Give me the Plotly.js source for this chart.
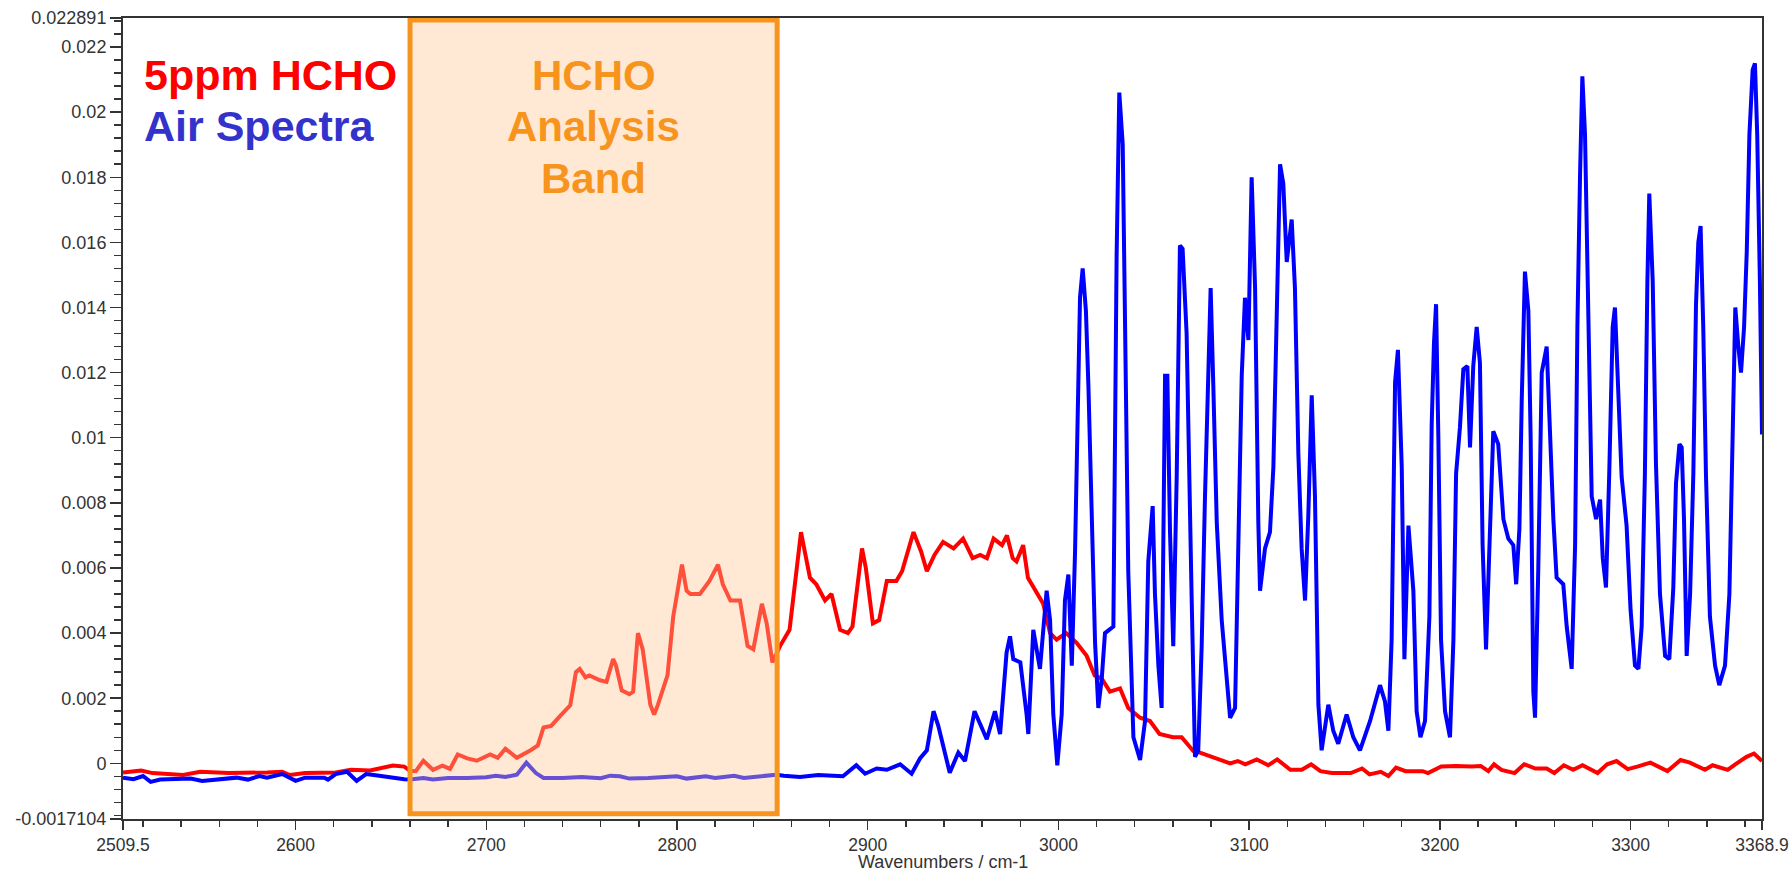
<!DOCTYPE html>
<html>
<head>
<meta charset="utf-8">
<script src="https://cdn.plot.ly/plotly-3.0.1.min.js"></script>
<style>
  html, body { margin: 0; padding: 0; background: #ffffff; }
  #chart { width: 1791px; height: 871px; }
</style>
</head>
<body>
<div id="chart"></div>
<script>
// ---- Data ----
const hchoWavenumber = [2509.5,2519,2525,2541,2550,2565,2585,2593,2597,2605,2621,2629,2639,2645,2651,2657,2660,2663,2667,2672,2677,2681,2685,2690,2695,2702,2706,2710,2716,2723,2727,2730,2734,2739,2744,2747,2749,2752,2754,2759.6,2763,2766.5,2768,2771,2775,2777,2779.5,2782,2786,2788,2790,2795,2798,2802.6,2805,2807,2812,2817,2821.5,2824,2828,2833,2837,2840,2844.5,2847,2850,2854,2859,2862,2865,2867,2869.7,2873,2877.6,2881,2883,2885.5,2889.6,2892,2897,2899,2902.7,2906,2910,2915,2918,2924,2928,2931,2935,2939.5,2945,2950,2955,2959,2962.5,2966,2970.4,2973,2976,2978,2981.5,2984,2988,2992,2995.6,2999,3004,3009.5,3014.8,3019,3022.7,3027,3032.3,3036.6,3042.8,3048,3053,3060,3064.6,3070.7,3074.2,3080,3086,3090,3094,3098,3104,3110,3114.7,3121.6,3127.6,3132.5,3137.4,3143.4,3153.3,3159.2,3163.1,3169,3173,3177,3182,3191,3193.8,3200.7,3208.6,3216.5,3221.4,3225.4,3228.4,3232.3,3239.2,3244.2,3250.1,3256,3260,3265,3269.9,3274.8,3282.7,3287.7,3292.6,3298.5,3303.5,3310.4,3319.3,3326.2,3331.1,3339,3343,3350.9,3354.9,3360.8,3364.7,3368.9];
const hchoAbsorbance = [-0.00028,-0.00022,-0.0003,-0.00036,-0.00026,-0.0003,-0.00028,-0.00026,-0.00036,-0.0003,-0.00028,-0.0002,-0.00022,-0.00015,-0.00007,-0.0001,-0.00023,-0.00024,0.00008,-0.0002,-0.00007,-0.00017,0.00027,0.00015,0.00008,0.00027,0.00017,0.00045,0.00017,0.00039,0.00055,0.0011,0.00115,0.00147,0.00178,0.0028,0.0029,0.00264,0.0027,0.00255,0.0025,0.0032,0.003,0.00224,0.00212,0.0022,0.004,0.0035,0.0018,0.0015,0.0018,0.0027,0.0045,0.0061,0.0053,0.0052,0.0052,0.0056,0.0061,0.0055,0.005,0.005,0.0036,0.0035,0.0049,0.0043,0.0031,0.0036,0.0041,0.0056,0.0071,0.0065,0.0057,0.0055,0.005,0.0052,0.0047,0.0041,0.004,0.0042,0.0066,0.006,0.0043,0.0044,0.0056,0.0056,0.0059,0.0071,0.0065,0.0059,0.0064,0.0068,0.0066,0.0069,0.0063,0.0064,0.0063,0.0069,0.0067,0.007,0.0063,0.0062,0.0067,0.0057,0.0053,0.0049,0.004,0.0038,0.004,0.0037,0.0033,0.0027,0.0026,0.0022,0.0023,0.0017,0.0014,0.0013,0.0009,0.0008,0.0008,0.00038,0.00033,0.00021,0.0001,0.0,0.00007,-0.00003,0.00012,-0.00006,0.00012,-0.0002,-0.0002,-0.00003,-0.00024,-0.0003,-0.0003,-0.00016,-0.00034,-0.00026,-0.00039,-0.00013,-0.00024,-0.00024,-0.0003,-0.0001,-0.00008,-0.0001,-0.00008,-0.00024,-0.00003,-0.0002,-0.0003,-0.00003,-0.00016,-0.00016,-0.0003,-0.00006,-0.0002,-0.00006,-0.0003,-0.00003,0.00007,-0.00018,-0.0001,0.00002,-0.00024,0.0001,0.00002,-0.0002,-0.00006,-0.0002,-0.00003,0.0002,0.0003,0.00007];

const airWavenumber = [2509.5,2515,2520,2524,2529,2545,2551,2561,2569,2575,2581,2585,2593,2600,2605,2615,2617,2621,2627,2632,2637,2641,2649,2657,2660,2667,2672,2680,2690,2700,2705,2710,2716,2721,2726,2730,2740,2750,2760,2765,2770,2775,2785,2795,2800,2805,2815,2820,2830,2835,2845,2852,2856,2864.5,2874,2880,2887,2894,2898.6,2904.7,2910,2917,2923,2927.4,2931,2934.5,2937,2943,2947.5,2951,2956,2959,2962.4,2966.7,2969.4,2972.8,2974.6,2976.3,2980,2983.3,2984.2,2986.8,2990.3,2993.8,2995.6,2997.3,2999.4,3001.7,3003.4,3005.2,3007,3008.7,3009.9,3011.3,3012.7,3014.4,3015.7,3017.4,3019.2,3020.9,3022.7,3024.4,3028.8,3030.5,3031.9,3033.7,3034.9,3036.6,3039.3,3042.8,3045.4,3047.1,3049.4,3050.6,3052.4,3054.1,3055.9,3057.1,3058.5,3060.2,3062,3063.7,3065.1,3067.2,3069.8,3071.6,3073.3,3075.1,3076.8,3078.6,3079.8,3081.2,3083,3085.6,3088.2,3090,3092.6,3094.3,3096.1,3097.8,3099.6,3101.3,3103.1,3104.8,3105.7,3108.3,3110.9,3112.7,3114.4,3116.2,3117.9,3119.7,3122.3,3124,3125.8,3127.5,3129.3,3131,3132.8,3134.5,3136.3,3138,3141.5,3144.1,3146.7,3151.1,3154.6,3158.1,3163.4,3168.6,3171.2,3173,3174.7,3175.6,3176.5,3178,3180,3181.4,3183.5,3186.1,3187.8,3189.8,3192.2,3194.5,3195.7,3196.9,3198,3199.2,3200.6,3202.7,3205.3,3207.1,3208.5,3210.5,3212.3,3214.4,3215.8,3217.5,3219.3,3221,3222.4,3224.2,3226,3228,3230.6,3233.3,3235.9,3238.5,3240,3241.7,3242.9,3244.6,3246.4,3247.6,3249,3249.9,3251.6,3253.4,3256,3257.7,3259.5,3261.2,3264.7,3266.5,3269.1,3270.9,3272.1,3273.5,3274.7,3276.1,3277.8,3279.6,3281.9,3284,3285.4,3287.1,3288.8,3290.6,3291.8,3293.6,3295.3,3297.9,3300,3302.3,3304.1,3305.8,3307.5,3308.8,3309.8,3311.6,3313.3,3315.4,3318.1,3320.3,3322.4,3323.8,3325.6,3326.8,3328,3329.4,3331.2,3332.9,3334.3,3335.5,3336.7,3338.1,3339.5,3341.6,3344.3,3346.5,3349.5,3351.8,3353.5,3354.9,3356.5,3357.9,3359.5,3360.9,3362.3,3364,3365.2,3366.4,3367.8,3368.9];
const airAbsorbance = [-0.00044,-0.00049,-0.00039,-0.00057,-0.0005,-0.00047,-0.00054,-0.00047,-0.00044,-0.0005,-0.00039,-0.00044,-0.00033,-0.00054,-0.00044,-0.00044,-0.0005,-0.00033,-0.00026,-0.00054,-0.00033,-0.00036,-0.00044,-0.00049,-0.0005,-0.00045,-0.0005,-0.00045,-0.00045,-0.00043,-0.00038,-0.00042,-0.00035,0.00002,-0.0003,-0.00045,-0.00045,-0.00042,-0.00046,-0.00038,-0.0004,-0.00047,-0.00045,-0.00042,-0.0004,-0.00047,-0.0004,-0.00045,-0.00038,-0.00045,-0.0004,-0.00035,-0.00038,-0.00042,-0.00036,-0.00037,-0.0004,-0.00006,-0.00032,-0.00016,-0.0002,-0.00003,-0.00032,0.00015,0.0004,0.0016,0.00115,-0.00029,0.00033,0.00007,0.0016,0.0012,0.00074,0.0016,0.0009,0.0034,0.0039,0.0032,0.0031,0.0015,0.0009,0.0041,0.0029,0.0053,0.0044,0.0015,-0.00006,0.0015,0.005,0.0058,0.003,0.0065,0.0101,0.0143,0.0152,0.0139,0.0116,0.0076,0.0037,0.0017,0.0026,0.004,0.0042,0.0156,0.0206,0.019,0.0127,0.0059,0.0008,0.0001,0.0013,0.0062,0.0079,0.0052,0.003,0.0017,0.0119,0.0119,0.0071,0.0036,0.0088,0.0159,0.0158,0.0132,0.0052,0.0002,0.0004,0.0036,0.0081,0.0117,0.0146,0.0116,0.0074,0.0044,0.0027,0.0014,0.0017,0.0065,0.0119,0.0143,0.013,0.018,0.0146,0.0074,0.0053,0.0066,0.0071,0.0091,0.0139,0.0184,0.0178,0.0154,0.0167,0.0146,0.0095,0.0066,0.005,0.0076,0.0113,0.0082,0.0018,0.0004,0.0018,0.001,0.0006,0.0015,0.0008,0.0004,0.0013,0.0024,0.0019,0.001,0.0038,0.0075,0.0117,0.0127,0.0091,0.0032,0.0073,0.0053,0.0016,0.0008,0.0013,0.0045,0.0104,0.0129,0.0141,0.01,0.0038,0.0016,0.0008,0.0038,0.0089,0.0103,0.0121,0.0122,0.0097,0.0122,0.0134,0.0123,0.0067,0.0035,0.0066,0.0102,0.0098,0.0075,0.0069,0.0067,0.0055,0.0072,0.0111,0.0151,0.0139,0.01,0.0022,0.0014,0.006,0.012,0.0128,0.01,0.0075,0.0057,0.0055,0.0042,0.0029,0.0067,0.0134,0.0181,0.0211,0.0193,0.0134,0.0082,0.0075,0.0081,0.0063,0.0054,0.0089,0.0134,0.014,0.0116,0.0088,0.0073,0.0047,0.003,0.0029,0.0042,0.0089,0.0148,0.0175,0.0148,0.0092,0.0052,0.0033,0.0032,0.0054,0.0086,0.0098,0.0097,0.0075,0.0033,0.0052,0.0089,0.0141,0.016,0.0165,0.0134,0.0089,0.0045,0.003,0.0024,0.003,0.0052,0.0104,0.014,0.0128,0.012,0.0134,0.0157,0.0193,0.0213,0.0215,0.0193,0.0148,0.0101];

const xTickValues = [2509.5, 2600, 2700, 2800, 2900, 3000, 3100, 3200, 3300, 3368.9];
const xTickLabels = ['2509.5','2600','2700','2800','2900','3000','3100','3200','3300','3368.9'];
const yTickValues = [-0.0017104, 0, 0.002, 0.004, 0.006, 0.008, 0.01, 0.012, 0.014, 0.016, 0.018, 0.02, 0.022, 0.022891];
const yTickLabels = ['-0.0017104','0','0.002','0.004','0.006','0.008','0.01','0.012','0.014','0.016','0.018','0.02','0.022','0.022891'];

const legendLines = ['5ppm HCHO', 'Air Spectra'];
const bandLines = ['HCHO', 'Analysis', 'Band'];
const bandStart = 2660;
const bandEnd = 2852.5;
const xRange = [2509.5, 3368.9];
const yRange = [-0.0017104, 0.022891];

// ---- Chart ----
const FONT = 'Liberation Sans, Arial, Helvetica, sans-serif';

const traces = [
  { x: hchoWavenumber, y: hchoAbsorbance, type: 'scatter', mode: 'lines',
    name: legendLines[0], line: { color: '#ff0000', width: 4 } },
  { x: airWavenumber, y: airAbsorbance, type: 'scatter', mode: 'lines',
    name: legendLines[1], line: { color: '#0000ff', width: 4 } }
];

const legendColors = ['#ff0000', '#3333cc'];
const legendY = [0.9283, 0.8656];
const bandY = [0.9283, 0.8642, 0.8000];

const annotations = [];
legendLines.forEach((t, i) => annotations.push({
  xref: 'paper', yref: 'paper', x: 0.0113, y: legendY[i], xanchor: 'left', yanchor: 'middle',
  showarrow: false, text: '<b>' + t + '</b>',
  font: { family: FONT, size: 43, color: legendColors[i] }
}));
bandLines.forEach((t, i) => annotations.push({
  xref: 'x', yref: 'paper', x: (bandStart + bandEnd) / 2, y: bandY[i], xanchor: 'center', yanchor: 'middle',
  showarrow: false, text: '<b>' + t + '</b>',
  font: { family: FONT, size: 42, color: '#f7941e' }
}));
annotations.push({
  xref: 'paper', yref: 'paper', x: 0.5, y: -0.0543, xanchor: 'center', yanchor: 'middle',
  showarrow: false, text: 'Wavenumbers / cm-1',
  font: { family: FONT, size: 18, color: '#333333' }
});
annotations.push({
  xref: 'paper', yref: 'paper', x: -0.0799, y: 0.5, xanchor: 'center', yanchor: 'middle',
  showarrow: false, textangle: -90, text: 'Absorbance',
  font: { family: FONT, size: 18, color: '#a8ecf8' }
});

const layout = {
  width: 1791, height: 871,
  margin: { l: 123, r: 29, t: 18, b: 52, pad: 0 },
  paper_bgcolor: '#ffffff', plot_bgcolor: '#ffffff',
  showlegend: false,
  font: { family: FONT, size: 18, color: '#333333' },
  xaxis: {
    range: xRange, showgrid: false, zeroline: false,
    showline: true, linecolor: '#333333', linewidth: 2, mirror: true,
    tickmode: 'array', tickvals: xTickValues, ticktext: xTickLabels,
    ticks: 'outside', ticklen: 9, tickwidth: 1.5, tickcolor: '#333333',
    tickfont: { family: FONT, size: 17.5, color: '#333333' },
    minor: { ticks: 'outside', ticklen: 6, tickwidth: 1.5, tickcolor: '#333333', dtick: 20, tick0: 2500, showgrid: false }
  },
  yaxis: {
    range: yRange, showgrid: false, zeroline: false,
    showline: true, linecolor: '#333333', linewidth: 2, mirror: true,
    tickmode: 'array', tickvals: yTickValues, ticktext: yTickLabels,
    ticks: 'outside', ticklen: 11, tickwidth: 1.5, tickcolor: '#333333',
    tickfont: { family: FONT, size: 18, color: '#333333' },
    minor: { ticks: 'outside', ticklen: 7, tickwidth: 1.5, tickcolor: '#333333', dtick: 0.0004, tick0: 0, showgrid: false }
  },
  shapes: [
    { type: 'rect', xref: 'x', yref: 'y', layer: 'above',
      x0: bandStart, x1: bandEnd, y0: -0.00155, y1: 0.02283,
      fillcolor: 'rgba(255,200,150,0.4)',
      line: { color: '#f7941e', width: 5 } }
  ],
  annotations: annotations
};

Plotly.newPlot('chart', traces, layout, { staticPlot: true, displayModeBar: false });
</script>
</body>
</html>
